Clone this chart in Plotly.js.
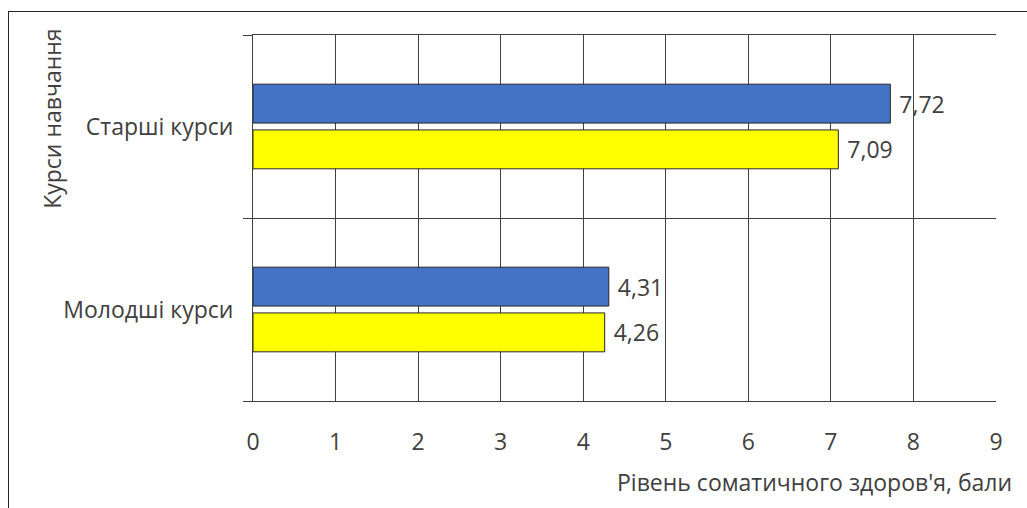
<!DOCTYPE html>
<html>
<head>
<meta charset="utf-8">
<script src="https://cdn.plot.ly/plotly-3.0.1.min.js"></script>
<style>
  html, body { margin: 0; padding: 0; background: #fff; }
  #wrap { position: relative; width: 1027px; height: 508px; overflow: hidden; }
  #chart { position: absolute; left: 0; top: 0; width: 1027px; height: 508px; }
  #frame { position: absolute; left: 8px; top: 11px; width: 1100px; height: 600px;
           border-left: 1.5px solid #262626; border-top: 1.5px solid #262626; pointer-events: none; }
</style>
</head>
<body>
<div id="wrap">
  <div id="chart"></div>
  <div id="frame"></div>
</div>
<script>
const categories = ['Молодші курси', 'Старші курси'];
const seriesBlue = [4.31, 7.72];
const seriesYellow = [4.26, 7.09];
const xTicks = [0, 1, 2, 3, 4, 5, 6, 7, 8, 9];
const xTitle = "Рівень соматичного здоров'я, бали";
const yTitle = 'Курси навчання';

const FONT = 'Open Sans, sans-serif';
const TXT = '#404040';
const FS = 23;

const traces = [
  {
    type: 'bar', orientation: 'h', y: categories, x: seriesYellow,
    marker: { color: '#FFFF00', line: { color: '#262626', width: 1 } },
    texttemplate: '\u00a0%{x:.2f}', textposition: 'outside', cliponaxis: false,
    textfont: { family: FONT, size: FS, color: TXT }, hoverinfo: 'none'
  },
  {
    type: 'bar', orientation: 'h', y: categories, x: seriesBlue,
    marker: { color: '#4472C4', line: { color: '#262626', width: 1 } },
    texttemplate: '\u00a0%{x:.2f}', textposition: 'outside', cliponaxis: false,
    textfont: { family: FONT, size: FS, color: TXT }, hoverinfo: 'none'
  }
];

const layout = {
  width: 1027, height: 508,
  margin: { l: 253, r: 31, t: 35, b: 107, pad: 0 },
  paper_bgcolor: '#fff', plot_bgcolor: '#fff',
  separators: ', ',
  showlegend: false,
  barmode: 'group',
  bargap: 0.5,
  bargroupgap: 0.15,
  font: { family: FONT, size: FS, color: TXT },
  xaxis: {
    range: [0, 9], tickvals: xTicks, ticks: '', showgrid: true,
    gridcolor: '#404040', gridwidth: 1, zeroline: false,
    showline: true, linecolor: '#404040', linewidth: 1, mirror: true,
    tickfont: { family: FONT, size: FS, color: TXT }, ticklabelstandoff: 20
  },
  yaxis: {
    type: 'category', range: [-0.5, 1.5], tickson: 'boundaries',
    ticks: 'outside', ticklen: 9, tickcolor: '#404040', tickwidth: 1,
    showgrid: true, gridcolor: '#404040', gridwidth: 1,
    showline: true, linecolor: '#404040', linewidth: 1, zeroline: false,
    tickfont: { family: FONT, size: FS, color: TXT }, ticklabelstandoff: 14
  },
  annotations: [
    { text: yTitle, xref: 'paper', yref: 'paper', x: -0.27, y: 0.772,
      xanchor: 'center', yanchor: 'middle', textangle: -90, showarrow: false,
      font: { family: FONT, size: FS, color: TXT } },
    { text: xTitle, xref: 'paper', yref: 'paper', x: 1.024, y: -0.22,
      xanchor: 'right', yanchor: 'middle', showarrow: false,
      font: { family: FONT, size: FS, color: TXT } }
  ]
};

Plotly.newPlot('chart', traces, layout, { displayModeBar: false, staticPlot: true });
</script>
</body>
</html>
